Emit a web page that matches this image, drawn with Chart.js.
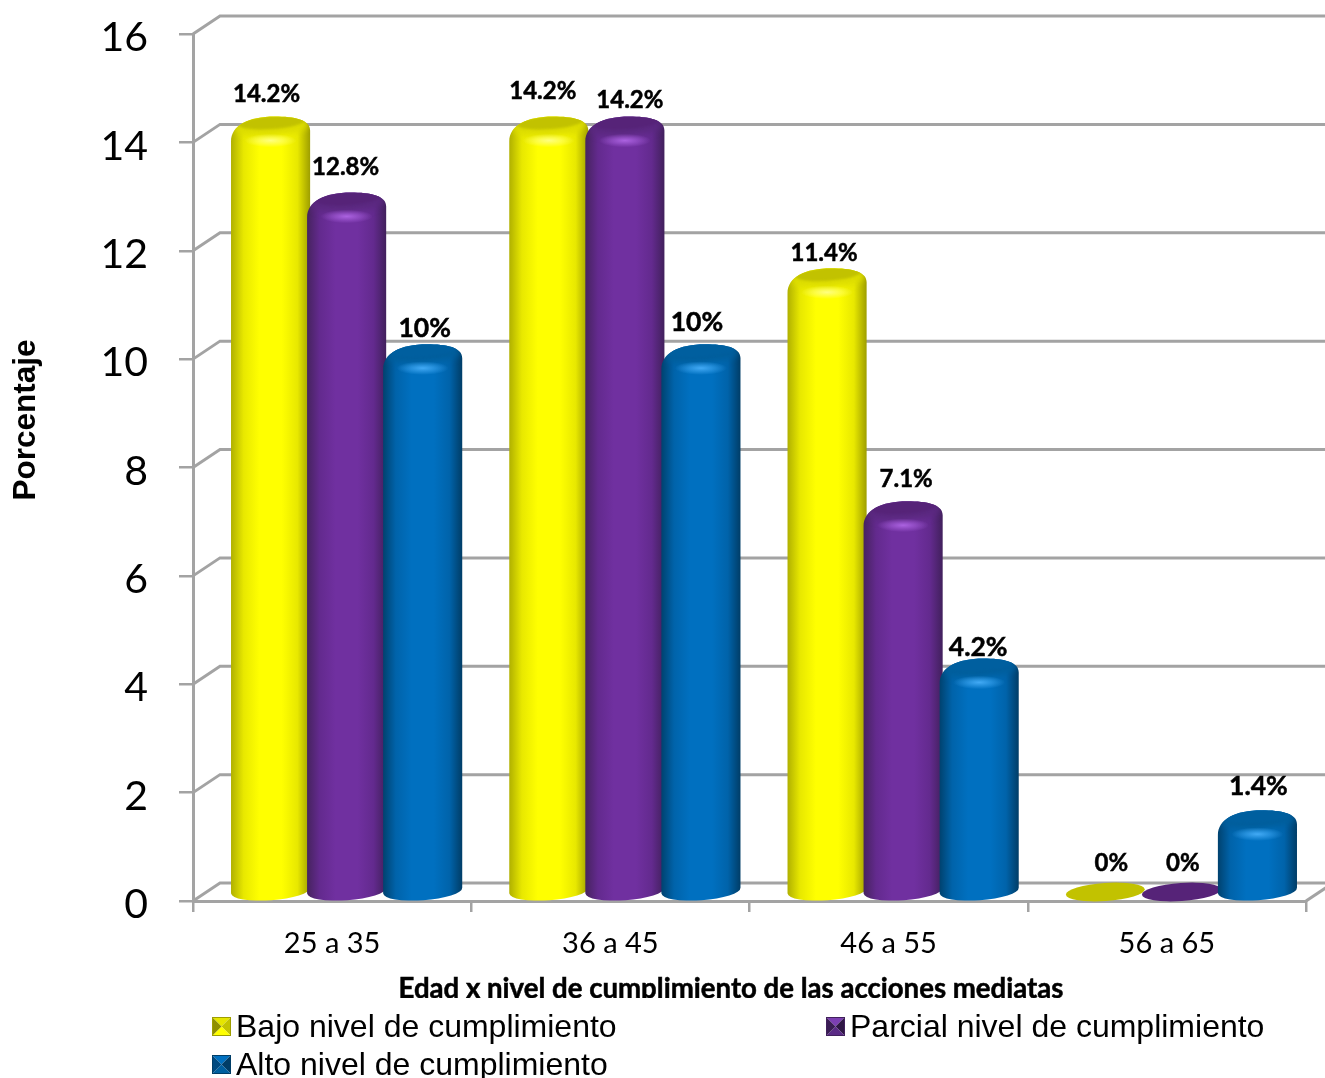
<!DOCTYPE html>
<html>
<head>
<meta charset="utf-8">
<title>Edad x nivel de cumplimiento</title>
<script src="https://cdn.jsdelivr.net/npm/chart.js@4/dist/chart.umd.min.js"></script>
<style>
  html, body { margin: 0; padding: 0; background: #fff; overflow: hidden; }
  canvas { display: block; }
</style>
</head>
<body>
<canvas id="myChart" width="1325" height="1078"></canvas>
<script>
const categories = ['25 a 35', '36 a 45', '46 a 55', '56 a 65'];
const bajo = [14.2, 14.2, 11.4, 0];
const parcial = [12.8, 14.2, 7.1, 0];
const alto = [10, 10, 4.2, 1.4];
const seriesNames = ['Bajo nivel de cumplimiento', 'Parcial nivel de cumplimiento', 'Alto nivel de cumplimiento'];
const yTicks = [0, 2, 4, 6, 8, 10, 12, 14, 16];
const xTitle = 'Edad x nivel de cumplimiento de las acciones mediatas';
const yTitle = 'Porcentaje';

const LINE = '#a3a3a3';
// floor depth of the fake 3D box
const DEPTH_X = 27, DEPTH_Y = 18;
const TILT = -4 * Math.PI / 180;

const palette = [
  { base: '#ffff00', edgeL: '#b0b000', side: '#e8e800', edgeR: '#9e9e00', cap: '#c2c200', glow: '#ffff80', shade: '#dcdc00',
    sw: ['#e6e600', '#c4c400', '#ffff00', '#8f8f00'] },
  { base: '#7030a0', edgeL: '#46235f', side: '#632a8e', edgeR: '#41205c', cap: '#562378', glow: '#ab62e0', shade: '#5a287f',
    sw: ['#7c3fb2', '#2f1745', '#5a2a85', '#3a1c54'] },
  { base: '#0070c0', edgeL: '#00426f', side: '#0063aa', edgeR: '#003d67', cap: '#005f9f', glow: '#42aaf5', shade: '#005e9c',
    sw: ['#0070c0', '#003d67', '#005f9f', '#004a80'] }
];

// label nudges per series and category, relative to the top of the cylinder
const labelShift = [
  [[-3, -28], [-5, -31], [-2, -21], [7, -29]],
  [[0, -31], [6, -22], [4, -28], [2.5, -29]],
  [[3, -22], [-3, -28], [0, -17], [2, -30]]
];
const labelSize = [24, 24, 26.5];

function backWall(chart) {
  const ctx = chart.ctx, y = chart.scales.y, left = chart.chartArea.left;
  ctx.save();
  ctx.strokeStyle = LINE;
  ctx.lineWidth = 3;
  yTicks.forEach(t => {
    const py = y.getPixelForValue(t);
    ctx.beginPath();
    ctx.moveTo(left, py);
    ctx.lineTo(left + DEPTH_X, py - DEPTH_Y);
    ctx.lineTo(chart.width, py - DEPTH_Y);
    ctx.stroke();
  });
  // right edge of the floor
  const right = chart.chartArea.right, bottom = chart.chartArea.bottom;
  ctx.beginPath();
  ctx.moveTo(right, bottom);
  ctx.lineTo(right + DEPTH_X, bottom - DEPTH_Y);
  ctx.stroke();
  ctx.restore();
}

function flatDisc(ctx, cx, cy, col) {
  ctx.fillStyle = col.cap;
  ctx.beginPath();
  ctx.ellipse(cx, cy, 39.5, 9, TILT, 0, Math.PI * 2);
  ctx.fill();
}

function cylinder(ctx, cx, yc, bc, w, col) {
  const L = cx - w / 2, R = cx + w / 2;
  ctx.save();
  ctx.beginPath();
  ctx.moveTo(L, bc + 3);
  ctx.lineTo(L, yc + 19);
  ctx.bezierCurveTo(L, yc + 3, cx - 22, yc - 6, cx + 4, yc - 6);
  ctx.bezierCurveTo(cx + 24, yc - 6, R, yc - 3, R, yc + 8);
  ctx.lineTo(R, bc - 3);
  ctx.ellipse(cx, bc, w / 2, 9.5, TILT, 0, Math.PI);
  ctx.closePath();
  const g = ctx.createLinearGradient(L, 0, R, 0);
  g.addColorStop(0, col.edgeL);
  g.addColorStop(0.16, col.side);
  g.addColorStop(0.36, col.base);
  g.addColorStop(0.64, col.base);
  g.addColorStop(0.84, col.side);
  g.addColorStop(1, col.edgeR);
  ctx.fillStyle = g;
  ctx.fill();
  ctx.clip();

  // shoulder shading, a curved band dropping away from the top face
  ctx.save();
  ctx.filter = 'blur(3px)';
  ctx.fillStyle = col.shade;
  ctx.beginPath();
  ctx.ellipse(cx + 1, yc + 4, 37, 10, TILT, 0, Math.PI * 2);
  ctx.fill();
  ctx.restore();

  // glow on the bevel
  ctx.save();
  ctx.translate(cx, yc + 18);
  ctx.scale(1, 0.26);
  const glow = ctx.createRadialGradient(0, 0, 0, 0, 0, 26);
  glow.addColorStop(0, col.glow);
  glow.addColorStop(1, col.glow + '00');
  ctx.fillStyle = glow;
  ctx.beginPath();
  ctx.arc(0, 0, 26, 0, Math.PI * 2);
  ctx.fill();
  ctx.restore();

  // top face
  ctx.filter = 'blur(1px)';
  ctx.fillStyle = col.cap;
  ctx.beginPath();
  ctx.ellipse(cx + 1, yc, 33, 6.5, TILT, 0, Math.PI * 2);
  ctx.fill();
  ctx.restore();
}

// legend marker, a small square bevelled like a pyramid
function swatch(ctx, x, y, s, col) {
  const c = [x + s / 2, y + s / 2];
  const tri = (a, b, fill) => {
    ctx.fillStyle = fill;
    ctx.beginPath();
    ctx.moveTo(a[0], a[1]);
    ctx.lineTo(b[0], b[1]);
    ctx.lineTo(c[0], c[1]);
    ctx.closePath();
    ctx.fill();
  };
  const tl = [x, y], tr = [x + s, y], br = [x + s, y + s], bl = [x, y + s];
  tri(tl, tr, col.sw[0]);
  tri(tr, br, col.sw[1]);
  tri(br, bl, col.sw[2]);
  tri(bl, tl, col.sw[3]);
  ctx.strokeStyle = col.edgeR;
  ctx.lineWidth = 1;
  ctx.strokeRect(x + 0.5, y + 0.5, s - 1, s - 1);
}

const cylinderPlugin = {
  id: 'cylinders',
  beforeDraw(chart) {
    // Lato sits high on a middle baseline, drop the y tick labels to their ticks
    chart.scales.y.getLabelItems().forEach(item => { item.options.translation[1] += 4; });
  },
  beforeDatasetsDraw(chart) {
    const ctx = chart.ctx;
    backWall(chart);
    const metas = [0, 1, 2].map(i => chart.getDatasetMeta(i));
    // left to right so each cylinder overlaps its neighbour
    categories.forEach((c, ci) => {
      metas.forEach((meta, si) => {
        const el = meta.data[ci];
        const cx = el.x + DEPTH_X / 2 + 1, yc = el.y - DEPTH_Y / 2, bc = el.base - DEPTH_Y / 2;
        if (chart.data.datasets[si].data[ci] === 0) flatDisc(ctx, cx, bc, palette[si]);
        else cylinder(ctx, cx, yc, bc, el.width, palette[si]);
      });
    });
    ctx.save();
    ctx.fillStyle = '#000';
    ctx.strokeStyle = '#000';
    ctx.lineWidth = 0.5;
    ctx.textAlign = 'center';
    ctx.textBaseline = 'middle';
    metas.forEach((meta, si) => {
      ctx.font = 'bold ' + labelSize[si] + 'px Lato';
      meta.data.forEach((el, ci) => {
        const shift = labelShift[si][ci];
        const v = chart.data.datasets[si].data[ci];
        const lx = el.x + DEPTH_X / 2 + shift[0], ly = el.y - DEPTH_Y / 2 + shift[1];
        ctx.fillText(v + '%', lx, ly);
        ctx.strokeText(v + '%', lx, ly);
      });
    });
    ctx.restore();
    return false;
  },
  afterDraw(chart) {
    const ctx = chart.ctx;
    ctx.save();
    ctx.fillStyle = '#000';
    ctx.textAlign = 'center';
    ctx.textBaseline = 'alphabetic';
    // axis title is cut off by the legend box below it
    ctx.save();
    ctx.beginPath();
    ctx.rect(0, 960, 1325, 38);
    ctx.clip();
    ctx.font = 'bold 27.6px Lato';
    ctx.strokeStyle = '#000';
    ctx.lineWidth = 0.5;
    ctx.fillText(xTitle, 731, 998);
    ctx.strokeText(xTitle, 731, 998);
    ctx.restore();

    ctx.save();
    ctx.translate(35, 420);
    ctx.rotate(-Math.PI / 2);
    ctx.font = 'bold 31.5px "Liberation Sans"';
    ctx.fillText(yTitle, 0, 0);
    ctx.restore();

    // legend, two columns
    ctx.textAlign = 'left';
    ctx.font = '32px "Liberation Sans"';
    const spots = [[212, 1037], [826, 1037], [212, 1075]];
    seriesNames.forEach((name, i) => {
      swatch(ctx, spots[i][0], spots[i][1] - 20, 19, palette[i]);
      ctx.fillStyle = '#000';
      ctx.fillText(name, spots[i][0] + 24, spots[i][1]);
    });
    ctx.restore();
  }
};

new Chart(document.getElementById('myChart'), {
  type: 'bar',
  plugins: [cylinderPlugin],
  data: {
    labels: categories,
    datasets: [
      { label: seriesNames[0], data: bajo, backgroundColor: palette[0].base },
      { label: seriesNames[1], data: parcial, backgroundColor: palette[1].base },
      { label: seriesNames[2], data: alto, backgroundColor: palette[2].base }
    ]
  },
  options: {
    responsive: false,
    animation: false,
    devicePixelRatio: 1,
    layout: { padding: { top: 34, right: 19, left: 0, bottom: 0 } },
    categoryPercentage: 0.82,
    barPercentage: 1.04,
    plugins: { legend: { display: false }, tooltip: { enabled: false } },
    scales: {
      x: {
        grid: { drawOnChartArea: false, tickLength: 11, color: LINE, lineWidth: 2.5 },
        border: { color: LINE, width: 3 },
        ticks: { color: '#000', padding: 14, font: { family: 'Lato', size: 29 }, maxRotation: 0 },
        afterFit(scale) { scale.height = 177; }
      },
      y: {
        min: 0,
        max: 16,
        afterBuildTicks(scale) { scale.ticks = yTicks.map(v => ({ value: v })); },
        grid: { drawOnChartArea: false, tickLength: 14, color: LINE, lineWidth: 2.5 },
        border: { color: LINE, width: 3 },
        ticks: { color: '#000', padding: 31, font: { family: 'Lato', size: 41 } },
        // tick padding would otherwise push the plot area down
        afterFit(scale) { scale.width = 193; scale.paddingTop = 0; scale.paddingBottom = 0; }
      }
    }
  }
});
</script>
</body>
</html>
